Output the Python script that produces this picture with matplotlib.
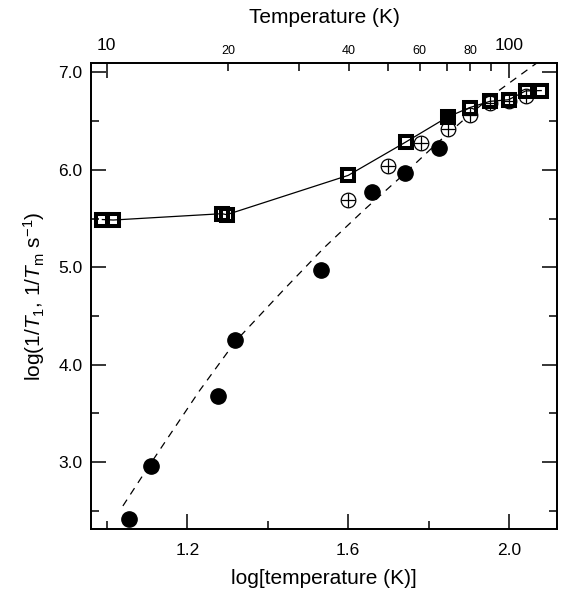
import numpy as np
import matplotlib
matplotlib.use("Agg")
import matplotlib.pyplot as plt

plt.rcParams['font.family'] = ['Liberation Sans', 'DejaVu Sans']
plt.rcParams['mathtext.fontset'] = 'custom'
plt.rcParams['mathtext.rm'] = 'Liberation Sans'
plt.rcParams['mathtext.it'] = 'Liberation Sans:italic'

# squares (1/Tm), joined by solid line; index 6 is drawn filled
sq_x = [0.989, 1.016, 1.286, 1.298, 1.600, 1.743, 1.847, 1.902, 1.952, 1.999, 2.041, 2.080]
sq_y = [5.49, 5.485, 5.55, 5.54, 5.943, 6.285, 6.542, 6.639, 6.703, 6.72, 6.81, 6.814]
sq_filled = 6

# circle with plus
pc_x = [1.599, 1.700, 1.780, 1.847, 1.902, 1.952, 1.999, 2.043]
pc_y = [5.687, 6.039, 6.279, 6.416, 6.56, 6.69, 6.71, 6.758]

# filled circles (1/T1)
fc_x = [1.054, 1.109, 1.276, 1.319, 1.532, 1.660, 1.741, 1.826]
fc_y = [2.412, 2.959, 3.675, 4.249, 4.975, 5.772, 5.967, 6.224]

# dashed fit curve
fit_x = [1.04, 1.10, 1.16, 1.23, 1.32, 1.44, 1.54, 1.64, 1.74, 1.82, 1.90, 1.97, 2.04, 2.07]
fit_y = [2.55, 2.93, 3.30, 3.73, 4.24, 4.77, 5.20, 5.59, 5.96, 6.27, 6.56, 6.80, 7.01, 7.10]

# top axis temperatures
top_major = [10, 100]
top_minor = [20, 30, 40, 50, 60, 70, 80, 90]
top_minor_labels = ['20', '', '40', '', '60', '', '80', '']

fig = plt.figure(figsize=(5.68, 6.0), dpi=100)
ax = fig.add_axes([0.1597, 0.1178, 0.8215, 0.7777])

ax.plot(fit_x, fit_y, color='black', lw=0.9, ls=(0, (6, 5)))

ax.plot(pc_x, pc_y, ls='none', marker='o', ms=10.5, mfc='white', mec='black', mew=0.9)
ax.plot(pc_x, pc_y, ls='none', marker='+', ms=10.5, mec='black', mew=0.9)

ax.plot(fc_x, fc_y, ls='none', marker='o', ms=11, mfc='black', mec='black')

ax.plot(sq_x, sq_y, color='black', lw=0.9)
open_x = [x for i, x in enumerate(sq_x) if i != sq_filled]
open_y = [y for i, y in enumerate(sq_y) if i != sq_filled]
ax.plot(open_x, open_y, ls='none', marker='s', ms=8, mfc='none', mec='black', mew=2.9)
ax.plot([sq_x[sq_filled]], [sq_y[sq_filled]], ls='none', marker='s', ms=8,
        mfc='black', mec='black', mew=2.9)

ax.set_xlim(0.96, 2.12)
ax.set_ylim(2.31, 7.10)
ax.set_xticks([1.2, 1.6, 2.0])
ax.set_xticks([1.0, 1.4, 1.8], minor=True)
ax.set_yticks([3.0, 4.0, 5.0, 6.0, 7.0])
ax.set_yticks([2.5, 3.5, 4.5, 5.5, 6.5], minor=True)
ax.set_xticklabels(['1.2', '1.6', '2.0'])
ax.set_yticklabels(['3.0', '4.0', '5.0', '6.0', '7.0'])
ax.tick_params(which='both', direction='in', top=False, right=True, width=1.1,
               labelsize=12.5)
ax.tick_params(which='major', length=11)
ax.tick_params(which='minor', length=6)
ax.tick_params(axis='x', pad=10)
ax.tick_params(axis='y', pad=6)
for s in ax.spines.values():
    s.set_linewidth(1.3)

ax.set_xlabel('log[temperature (K)]', fontsize=15, labelpad=8)
ax.set_ylabel(r'log(1/$T_1$, 1/$T_\mathrm{m}$ s$^{-1}$)', fontsize=15, labelpad=8)

# top temperature axis
top = ax.twiny()
top.set_xlim(ax.get_xlim())
top.set_xticks(np.log10(top_major))
top.set_xticklabels([str(t) for t in top_major], fontsize=12.5)
top.set_xticks(np.log10(top_minor), minor=True)
top.set_xticklabels(top_minor_labels, minor=True, fontsize=9)
top.tick_params(which='both', direction='in', width=1.1)
top.tick_params(which='major', length=11, pad=7)
top.tick_params(which='minor', length=6, pad=4.2)
top.set_xlabel('Temperature (K)', fontsize=15, labelpad=11)
for s in top.spines.values():
    s.set_linewidth(1.3)

fig.savefig('out.png', dpi=100)
